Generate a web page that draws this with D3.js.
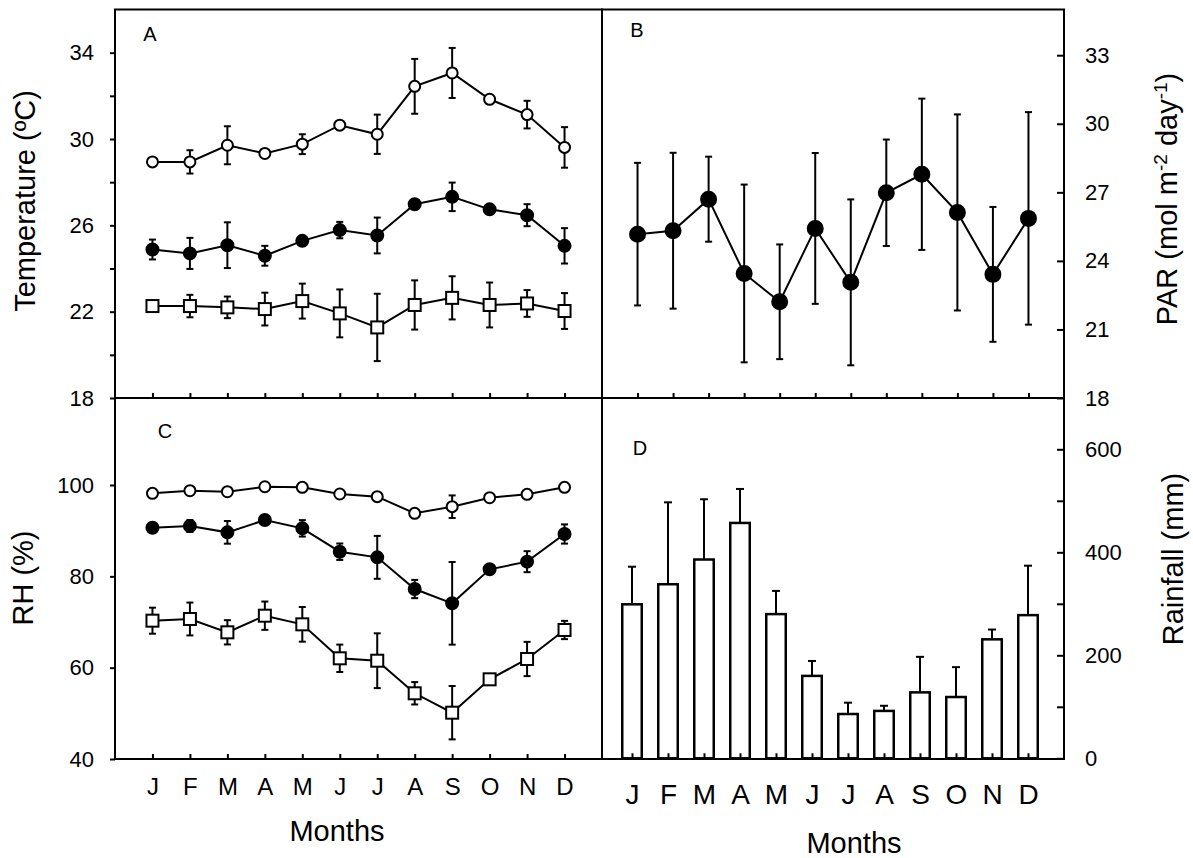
<!DOCTYPE html>
<html>
<head>
<meta charset="utf-8">
<script src="https://cdn.jsdelivr.net/npm/d3@7"></script>
<style>
  body { margin: 0; background: #fff; }
  svg { display: block; }
</style>
</head>
<body>
<svg id="chart" width="1193" height="858"></svg>
<script>
// monthly values
let months = ["J", "F", "M", "A", "M", "J", "J", "A", "S", "O", "N", "D"];

let tMax = [28.94, 28.94, 29.71, 29.33, 29.76, 30.64, 30.22, 32.44, 33.06, 31.84, 31.13, 29.61];
let tMaxErr = [0, 0.54, 0.88, 0, 0.46, 0, 0.91, 1.27, 1.16, 0, 0.64, 0.94];
let tMean = [24.88, 24.70, 25.08, 24.59, 25.28, 25.78, 25.53, 26.98, 27.32, 26.74, 26.47, 25.05];
let tMeanErr = [0.46, 0.72, 1.06, 0.46, 0.2, 0.38, 0.83, 0.2, 0.66, 0.1, 0.51, 0.82];
let tMin = [22.26, 22.26, 22.20, 22.12, 22.49, 21.92, 21.27, 22.31, 22.64, 22.31, 22.38, 22.03];
let tMinErr = [0, 0.52, 0.5, 0.76, 0.81, 1.11, 1.56, 1.14, 1.0, 1.04, 0.62, 0.83];

let par = [25.17, 25.32, 26.70, 23.45, 22.21, 25.42, 23.06, 26.98, 27.79, 26.12, 23.41, 25.86];
let parErr = [3.12, 3.41, 1.86, 3.89, 2.51, 3.30, 3.63, 2.33, 3.31, 4.29, 2.95, 4.65];

let rhMax = [98.18, 98.75, 98.53, 99.62, 99.49, 98.03, 97.44, 93.80, 95.25, 97.22, 97.96, 99.49];
let rhMaxErr = [0, 0, 0, 0, 0, 0, 0, 0.5, 2.47, 0, 0, 0];
let rhMean = [90.65, 91.02, 89.63, 92.33, 90.51, 85.39, 84.16, 77.22, 74.09, 81.54, 83.21, 89.27];
let rhMeanErr = [0.8, 1.3, 2.48, 0.8, 1.8, 1.8, 4.7, 2.0, 9.05, 0.5, 2.3, 2.1];
let rhMin = [70.29, 70.66, 67.74, 71.38, 69.49, 62.05, 61.52, 54.39, 50.14, 57.45, 61.90, 68.25];
let rhMinErr = [2.85, 3.6, 2.66, 3.1, 3.8, 3.0, 6.0, 2.45, 5.84, 0, 3.75, 2.0];

let rain = [299, 338, 386, 457, 280, 160, 86, 92, 128, 119, 231, 278];
let rainErr = [73, 159, 117, 66, 45, 29, 22, 10, 69, 58, 19, 96];

let tempTicks = [18, 22, 26, 30, 34];
let tempMinor = [20, 24, 28, 32];
let parTicks = [18, 21, 24, 27, 30, 33];
let rhTicks = [40, 60, 80, 100];
let rainTicks = [0, 200, 400, 600];
let rainMinor = [100, 300, 500];

function drawChart() {
    let canvas = d3.select("#chart");
    let font = "'Liberation Sans', Arial, sans-serif";

    let left = 115, mid = 602, right = 1064;
    let top = 9.5, middle = 398, bottom = 759;

    let idx = d3.range(1, 13);

    let xA = d3.scaleLinear().domain([0, 13]).range([left, mid]);
    let xB = d3.scaleLinear().domain([0, 13]).range([mid, right]);
    let xD = d3.scaleLinear().domain([0, 13]).range([596, right]);

    let yA = d3.scaleLinear().domain([18, 36]).range([middle, top]);
    let yB = d3.scaleLinear().domain([18, 35]).range([middle, top]);
    let yC = d3.scaleLinear().domain([40, 100]).range([bottom, 485]);
    let yD = d3.scaleLinear().domain([0, 600]).range([758.3, 449.3]);

    // panel frames
    [[left, top, mid, middle], [mid, top, right, middle],
     [left, middle, mid, bottom], [mid, middle, right, bottom]].forEach(b => {
        canvas.append("rect")
            .attr("x", b[0]).attr("y", b[1])
            .attr("width", b[2] - b[0]).attr("height", b[3] - b[1])
            .attr("fill", "none")
            .attr("stroke", "#000")
            .attr("stroke-width", 2);
    });

    function styleAxis(g, size) {
        g.select(".domain").remove();
        g.selectAll("line").attr("stroke-width", 2);
        g.selectAll("text")
            .attr("font-family", font)
            .attr("font-size", size)
            .attr("fill", "#000");
    }

    // month ticks on each bottom edge (pointing inward)
    function monthAxis(x, y, labels, size, baseline) {
        let ax = d3.axisBottom(x)
            .tickValues(idx)
            .tickSizeInner(-5)
            .tickSizeOuter(0)
            .tickFormat(d => labels ? months[d - 1] : "");
        let g = canvas.append("g")
            .attr("transform", "translate(0," + y + ")")
            .call(ax);
        styleAxis(g, size);
        g.selectAll("text").attr("y", baseline).attr("dy", 0);
    }

    function errorBars(x, y, vals, errs, cap, upOnly) {
        let g = canvas.append("g").attr("stroke", "#000").attr("stroke-width", 2);
        vals.forEach((v, i) => {
            let e = errs[i];
            if (e <= 0) return;
            let lo = upOnly ? v : v - e;
            let hi = v + e;
            let cx = x(i + 1);
            g.append("line")
                .attr("x1", cx).attr("x2", cx)
                .attr("y1", y(lo)).attr("y2", y(hi));
            g.append("line")
                .attr("x1", cx - cap).attr("x2", cx + cap)
                .attr("y1", y(hi)).attr("y2", y(hi));
            if (!upOnly) {
                g.append("line")
                    .attr("x1", cx - cap).attr("x2", cx + cap)
                    .attr("y1", y(lo)).attr("y2", y(lo));
            }
        });
    }

    function series(x, y, vals, errs, shape, r) {
        errorBars(x, y, vals, errs, 3.5, false);
        let line = d3.line()
            .x((d, i) => x(i + 1))
            .y(d => y(d));
        canvas.append("path")
            .attr("d", line(vals))
            .attr("fill", "none")
            .attr("stroke", "#000")
            .attr("stroke-width", 2);
        if (shape == "square") {
            canvas.append("g").selectAll("rect")
                .data(vals).enter()
                .append("rect")
                .attr("x", (d, i) => x(i + 1) - r)
                .attr("y", d => y(d) - r)
                .attr("width", 2 * r)
                .attr("height", 2 * r)
                .attr("fill", "#fff")
                .attr("stroke", "#000")
                .attr("stroke-width", 2);
        } else {
            canvas.append("g").selectAll("circle")
                .data(vals).enter()
                .append("circle")
                .attr("cx", (d, i) => x(i + 1))
                .attr("cy", d => y(d))
                .attr("r", r)
                .attr("fill", shape == "open" ? "#fff" : "#000")
                .attr("stroke", "#000")
                .attr("stroke-width", 2);
        }
    }

    // ---- Panel A: temperature
    series(xA, yA, tMax, tMaxErr, "open", 5.5);
    series(xA, yA, tMean, tMeanErr, "filled", 6);
    series(xA, yA, tMin, tMinErr, "square", 6);

    let gA = canvas.append("g").attr("transform", "translate(" + left + ",0)")
        .call(d3.axisLeft(yA).tickValues(tempTicks).tickSize(5).tickPadding(16));
    styleAxis(gA, 22);
    let gA2 = canvas.append("g").attr("transform", "translate(" + left + ",0)")
        .call(d3.axisLeft(yA).tickValues(tempMinor).tickSize(5).tickFormat(""));
    styleAxis(gA2, 22);
    monthAxis(xA, middle, false, 24, 0);

    // ---- Panel B: PAR
    series(xB, yB, par, parErr, "filled", 7.5);
    let gB = canvas.append("g").attr("transform", "translate(" + right + ",0)")
        .call(d3.axisRight(yB).tickValues(parTicks).tickSizeInner(-7).tickSizeOuter(0).tickPadding(21));
    styleAxis(gB, 22);
    monthAxis(xB, middle, false, 24, 0);

    // ---- Panel C: relative humidity
    series(xA, yC, rhMax, rhMaxErr, "open", 5.5);
    series(xA, yC, rhMean, rhMeanErr, "filled", 6);
    series(xA, yC, rhMin, rhMinErr, "square", 6);
    let gC = canvas.append("g").attr("transform", "translate(" + left + ",0)")
        .call(d3.axisLeft(yC).tickValues(rhTicks).tickSize(5).tickPadding(16));
    styleAxis(gC, 22);
    monthAxis(xA, bottom, true, 24, 36);

    // ---- Panel D: rainfall
    let barW = 19.5;
    errorBars(xD, yD, rain.map((d, i) => d), rainErr, 4, true);
    canvas.append("g").selectAll("rect")
        .data(rain).enter()
        .append("rect")
        .attr("x", (d, i) => xD(i + 1) - barW / 2)
        .attr("y", d => yD(d))
        .attr("width", barW)
        .attr("height", d => yD(0) - yD(d))
        .attr("fill", "#fff")
        .attr("stroke", "#000")
        .attr("stroke-width", 2.5);
    let gD = canvas.append("g").attr("transform", "translate(" + right + ",0)")
        .call(d3.axisRight(yD).tickValues(rainTicks).tickSizeInner(-7).tickSizeOuter(0).tickPadding(21));
    styleAxis(gD, 22);
    let gD2 = canvas.append("g").attr("transform", "translate(" + right + ",0)")
        .call(d3.axisRight(yD).tickValues(rainMinor).tickSizeInner(-7).tickSizeOuter(0).tickFormat(""));
    styleAxis(gD2, 22);
    monthAxis(xD, yD(0), true, 28, 46);

    // panel letters
    [["A", 150, 41], ["B", 637, 37], ["C", 165, 438], ["D", 640, 455]].forEach(p => {
        canvas.append("text")
            .attr("x", p[1]).attr("y", p[2])
            .attr("text-anchor", "middle")
            .attr("font-family", font)
            .attr("font-size", 20)
            .text(p[0]);
    });

    // axis titles
    canvas.append("text")
        .attr("transform", "rotate(-90)")
        .attr("x", -201).attr("y", 35)
        .attr("text-anchor", "middle")
        .attr("font-family", font).attr("font-size", 29)
        .text("Temperature (ºC)");

    canvas.append("text")
        .attr("transform", "rotate(-90)")
        .attr("x", -578).attr("y", 33)
        .attr("text-anchor", "middle")
        .attr("font-family", font).attr("font-size", 29)
        .text("RH (%)");

    let parLabel = canvas.append("text")
        .attr("transform", "rotate(-90)")
        .attr("x", -199).attr("y", 1177)
        .attr("text-anchor", "middle")
        .attr("font-family", font).attr("font-size", 29);
    parLabel.append("tspan").text("PAR (mol m");
    parLabel.append("tspan").attr("dy", -10).attr("font-size", 19).text("-2");
    parLabel.append("tspan").attr("dy", 10).text(" day");
    parLabel.append("tspan").attr("dy", -10).attr("font-size", 19).text("-1");
    parLabel.append("tspan").attr("dy", 10).text(")");

    canvas.append("text")
        .attr("transform", "rotate(-90)")
        .attr("x", -559).attr("y", 1183)
        .attr("text-anchor", "middle")
        .attr("font-family", font).attr("font-size", 29)
        .text("Rainfall (mm)");

    canvas.append("text")
        .attr("x", 337).attr("y", 841)
        .attr("text-anchor", "middle")
        .attr("font-family", font).attr("font-size", 29)
        .text("Months");

    canvas.append("text")
        .attr("x", 854).attr("y", 853)
        .attr("text-anchor", "middle")
        .attr("font-family", font).attr("font-size", 29)
        .text("Months");
}

drawChart();
</script>
</body>
</html>
